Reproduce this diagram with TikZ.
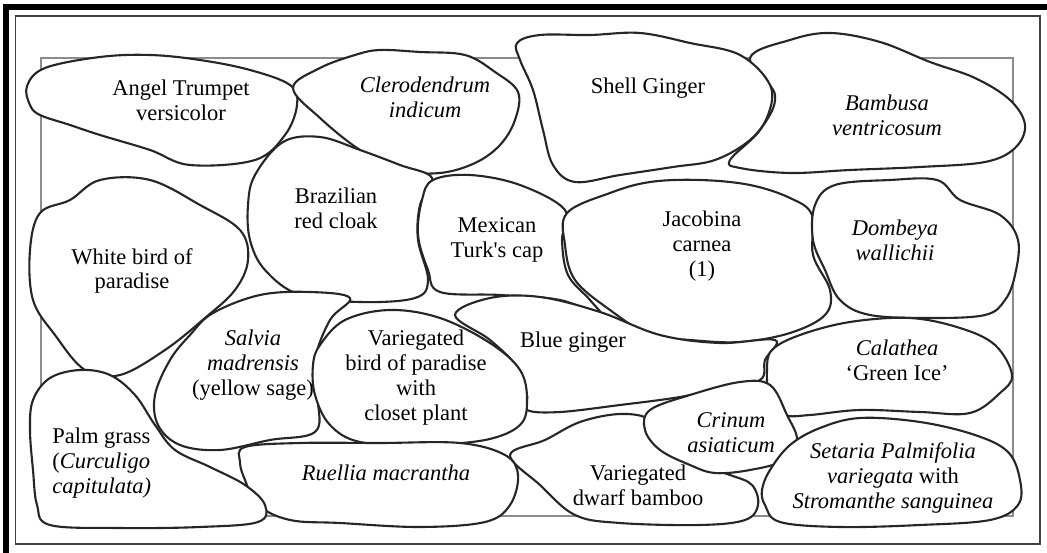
\documentclass[tikz,border=0pt]{standalone}
\usepackage{fontspec}
\setmainfont{Liberation Serif}
\begin{document}
\begin{tikzpicture}[x=0.02cm, y=-0.02cm,
  bed/.style={draw=black!85, line width=1.2pt, fill=white, line join=round},
  lbl/.style={align=center, font=\fontsize{12.8}{14.2}\selectfont, inner sep=0pt}]
\useasboundingbox (0,0) rectangle (1047,553);
% frame
\draw[line width=3.4pt] (6,7) rectangle (1053,559);
\draw[black!75, line width=0.8pt] (15.5,16) rectangle (1040,544);
% garden bed
\draw[black!45, line width=1.1pt] (41,58) rectangle (1013,516);

% top row
\draw[bed] plot[smooth cycle, tension=0.6] coordinates {(750,58) (790,40) (830,33) (880,42) (930,62) (975,78) (1010,100) (1025,125) (1015,148) (985,162) (920,167) (850,170) (790,173) (740,168) (730,160) (760,130) (775,95)};
\draw[bed] plot[smooth cycle, tension=0.6] coordinates {(517,43) (540,35) (590,35) (640,33) (690,43) (740,55) (770,85) (768,115) (750,140) (715,160) (673,167) (620,175) (575,182) (553,165) (543,130) (533,90) (520,60)};
\draw[bed] plot[smooth cycle, tension=0.6] coordinates {(27,86) (45,68) (100,57) (150,55) (200,60) (250,70) (290,85) (297,105) (285,135) (255,160) (190,165) (150,150) (100,135) (70,125) (40,115) (30,105)};
\draw[bed] plot[smooth cycle, tension=0.6] coordinates {(293,88) (320,68) (355,55) (380,50) (420,52) (465,55) (495,72) (518,92) (515,120) (500,145) (475,163) (440,173) (400,170) (360,150) (320,118)};

% middle row
\draw[bed] plot[smooth cycle, tension=0.6] coordinates {(40,213) (70,200) (100,180) (150,180) (200,205) (240,230) (248,260) (235,290) (205,318) (165,350) (120,375) (85,370) (55,335) (33,300) (30,250)};
\draw[bed] plot[smooth cycle, tension=0.6] coordinates {(255,175) (283,142) (320,137) (360,150) (400,165) (432,178) (420,205) (418,240) (428,280) (415,298) (360,302) (300,295) (265,270) (250,240) (248,205)};
\draw[bed] plot[smooth cycle, tension=0.6] coordinates {(433,180) (470,175) (520,185) (565,210) (562,240) (568,275) (590,300) (600,315) (560,300) (500,295) (440,292) (428,270) (418,235) (422,200)};
\draw[bed] plot[smooth cycle, tension=0.6] coordinates {(567,213) (610,193) (650,182) (700,180) (750,185) (790,198) (812,215) (813,255) (830,290) (825,315) (790,333) (740,342) (690,340) (650,335) (610,310) (575,280) (565,245)};
\draw[bed] plot[smooth cycle, tension=0.6] coordinates {(815,205) (835,185) (890,180) (937,180) (960,200) (1000,215) (1018,240) (1015,275) (1005,300) (985,315) (930,318) (870,315) (840,300) (825,270) (813,240)};

% lower rows
\draw[bed] plot[smooth cycle, tension=0.6] coordinates {(213,313) (260,295) (310,292) (350,298) (330,320) (315,360) (318,400) (315,432) (270,440) (220,450) (180,445) (158,425) (155,395) (170,360) (190,335)};
\draw[bed] plot[smooth cycle, tension=0.6] coordinates {(455,315) (490,298) (540,297) (600,312) (660,335) (720,343) (775,340) (765,360) (760,380) (720,388) (680,397) (620,405) (560,412) (527,410) (527,395) (517,367) (490,340)};
\draw[bed] plot[smooth cycle, tension=0.6] coordinates {(320,345) (345,320) (390,310) (440,318) (490,343) (520,370) (527,400) (520,425) (485,440) (420,445) (360,442) (330,425) (315,395) (313,365)};
\draw[bed] plot[smooth cycle, tension=0.6] coordinates {(772,350) (800,335) (850,322) (910,318) (960,328) (995,345) (1012,375) (1000,393) (970,413) (920,412) (860,410) (810,415) (785,415) (770,400) (767,370)};
\draw[bed] plot[smooth cycle, tension=0.6] coordinates {(510,455) (545,440) (580,422) (620,414) (650,420) (660,445) (690,462) (730,475) (752,485) (758,505) (745,520) (700,525) (620,523) (575,515) (540,485)};
\draw[bed] plot[smooth cycle, tension=0.6] coordinates {(650,410) (690,395) (740,382) (770,385) (787,415) (797,440) (785,460) (750,470) (715,473) (690,465) (660,450) (645,430)};
\draw[bed] plot[smooth cycle, tension=0.6] coordinates {(770,470) (790,445) (820,428) (860,418) (920,422) (975,435) (1008,452) (1020,480) (1018,505) (990,520) (920,525) (840,527) (780,522) (765,505) (762,490)};
\draw[bed] plot[smooth cycle, tension=0.6] coordinates {(245,447) (300,443) (380,443) (460,443) (505,455) (518,475) (510,505) (485,522) (420,527) (340,523) (290,520) (258,505) (245,480) (240,462)};
\draw[bed] plot[smooth cycle, tension=0.6] coordinates {(33,400) (50,378) (80,370) (110,375) (135,395) (155,425) (175,450) (210,467) (245,485) (265,505) (258,522) (200,527) (120,528) (50,525) (37,505) (33,470) (30,430)};

% labels
\node[lbl] (angel) at (181,100) {Angel Trumpet\\versicolor};
\node[lbl] (cleroden) at (425,97) {\textit{Clerodendrum}\\\textit{indicum}};
\node[lbl] (shell) at (648,88) {Shell Ginger};
\node[lbl] (bambusa) at (887,115) {\textit{Bambusa}\\\textit{ventricosum}};
\node[lbl] (brazil) at (336,208) {Brazilian\\red cloak};
\node[lbl] (mexican) at (497,240) {Mexican\\Turk\textquotesingle s cap};
\node[lbl] (jacobina) at (702,246) {Jacobina\\carnea\\(1)};
\node[lbl] (dombeya) at (895,240) {\textit{Dombeya}\\\textit{wallichii}};
\node[lbl] (whitebird) at (132,271) {White bird of\\paradise};
\node[lbl] (salvia) at (253,365) {\textit{Salvia}\\\textit{madrensis}\\(yellow sage)};
\node[lbl] (varbird) at (416,378) {Variegated\\bird of paradise\\with\\closet plant};
\node[lbl] (blueginger) at (573,342) {Blue ginger};
\node[lbl] (calathea) at (897,360) {\textit{Calathea}\\‘Green Ice’};
\node[lbl] (crinum) at (731,433) {\textit{Crinum}\\\textit{asiaticum}};
\node[lbl] (setaria) at (893,478) {\textit{Setaria Palmifolia}\\\textit{variegata} with\\\textit{Stromanthe sanguinea}};
\node[lbl, align=left, anchor=west] (palmgrass) at (52,463) {Palm grass\\(\textit{Curculigo}\\\textit{capitulata)}};
\node[lbl] (ruellia) at (386,473) {\textit{Ruellia macrantha}};
\node[lbl] (dwarfbamboo) at (638,485) {Variegated\\dwarf bamboo};
\end{tikzpicture}
\end{document}
